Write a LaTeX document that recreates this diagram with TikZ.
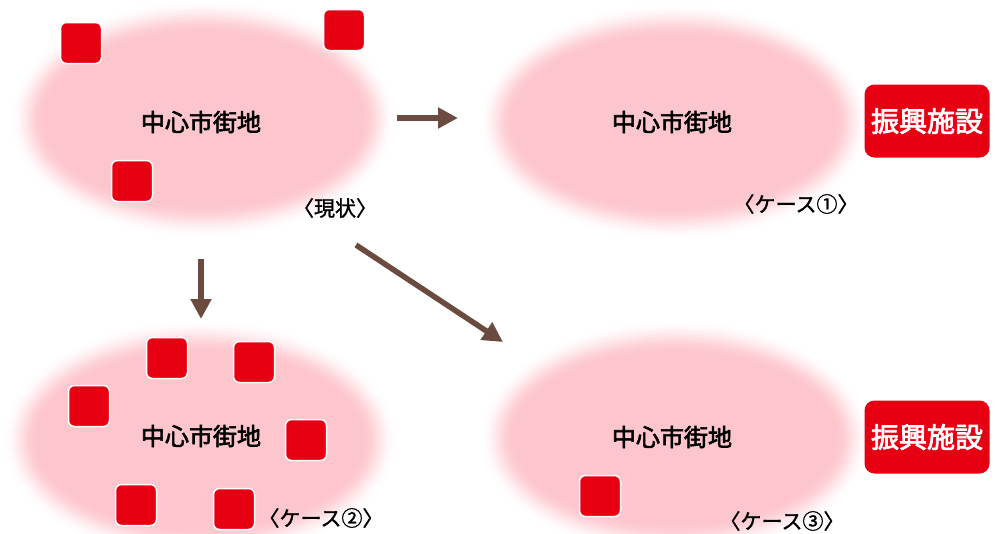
\documentclass[tikz,border=0pt]{standalone}
\usepackage{fontspec}
\setmainfont{Noto Sans CJK JP}
\newfontfamily\jpmid{Noto Sans CJK JP}[FakeBold=2.6]
\newfontfamily\jplabel{Noto Sans CJK JP}[FakeBold=1.4]
\usepackage{tikz}
\usetikzlibrary{arrows.meta}
\definecolor{cityred}{HTML}{E60012}
\definecolor{citypink}{HTML}{FDC5CC}
\definecolor{arrowbrown}{HTML}{6B4A3F}
\tikzset{
  shopbox/.style={draw=white, line width=1.5pt, fill=cityred, rounded corners=6pt, minimum size=41pt, inner sep=0pt},
  facility/.style={fill=cityred, rounded corners=10pt, minimum width=125pt, minimum height=73pt, inner sep=0pt,
    text=white, font=\jpmid\fontsize{28}{32}\selectfont},
  citytext/.style={font=\jpmid\fontsize{24}{28}\selectfont},
  casetext/.style={font=\jplabel\fontsize{21}{25}\selectfont},
  move/.style={draw=arrowbrown, line width=6pt, -{Triangle[length=20pt,width=20pt]}}
}
\newcommand{\cityzone}[4]{ \foreach \k [evaluate=\k as \p using {50-50*cos(180*\k/18)}] in {0,...,18}
  \fill[citypink!\p!white] ( #1 , #2 ) ellipse ( {#3-2*\k} and {#4-2*\k} );}
\newcommand{\shop}[3]{ \node[shopbox] (#1) at ( #2 , #3 ) {};}

\begin{document}
\begin{tikzpicture}[x=1pt, y=-1pt]
        \fill[white] (0,0) rectangle (998,533);
        \useasboundingbox (0,0) rectangle (998,533);
        % areas
        \cityzone{203}{119}{194}{121}
        \cityzone{674}{122}{196}{120}
        \cityzone{200}{440}{198}{122}
        \cityzone{675}{438}{196}{120}
        \node[citytext] (now) at (201,122) {中心市街地};
        \node[citytext] (case1) at (672,122) {中心市街地};
        \node[citytext] (case2) at (201,436) {中心市街地};
        \node[citytext] (case3) at (672,437) {中心市街地};
        % now
        \shop{s1}{81}{43}
        \shop{s2}{344}{30}
        \shop{s3}{132}{181}
        % case 2
        \shop{s4}{167}{358}
        \shop{s5}{254}{362}
        \shop{s6}{89}{406}
        \shop{s7}{306}{440}
        \shop{s8}{136}{505}
        \shop{s9}{234}{509}
        % case 3
        \shop{s10}{600}{496}
        % facilities
        \node[facility] (fac1) at (927,121) {振興施設};
        \node[facility] (fac3) at (927,437) {振興施設};
        % labels
        \node[casetext] (lab0) at (335,208) {〈現状〉};
        \node[casetext] (lab1) at (796,204) {〈ケース①〉};
        \node[casetext] (lab2) at (321,518) {〈ケース②〉};
        \node[casetext] (lab3) at (782,521) {〈ケース③〉};
        % arrows
        \coordinate (a1s) at (397,118);
        \coordinate (a1e) at (458,118);
        \coordinate (a2s) at (201,259);
        \coordinate (a2e) at (201,319);
        \coordinate (a3s) at (356,245);
        \coordinate (a3e) at (503,342);
        \draw[move] (a1s) -- (a1e);
        \draw[move] (a2s) -- (a2e);
        \draw[move, line width=5.5pt] (a3s) -- (a3e);
\end{tikzpicture}
\end{document}
